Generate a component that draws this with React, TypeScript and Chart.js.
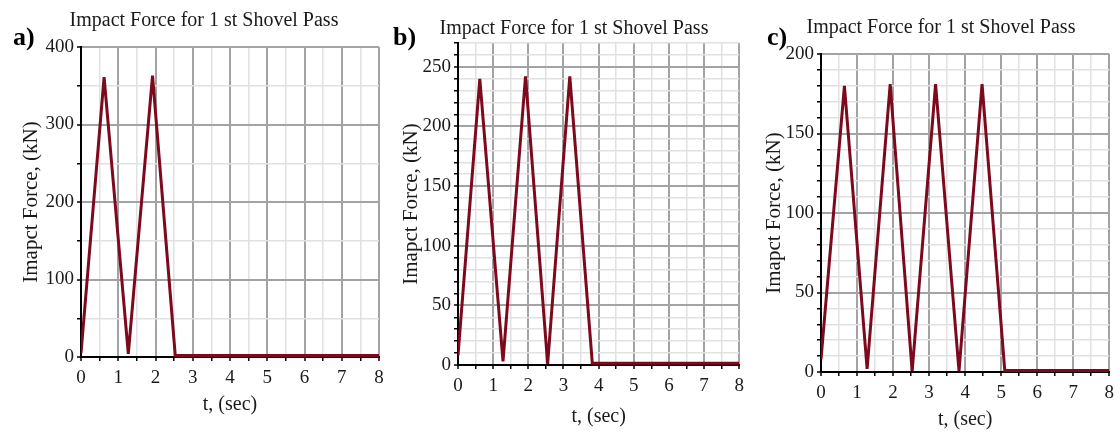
import React, { useEffect, useRef } from "react";
import { Chart, registerables } from "chart.js";

Chart.register(...registerables);

// ---- data ----
const chartTitle = "Impact Force for 1 st Shovel Pass";
const yAxisTitle = "Imapct Force, (kN)";
const xAxisTitle = "t, (sec)";
const panelLetters = ["a)", "b)", "c)"];

const xMin = 0;
const xMax = 8;
const xStep = 0.5; // minor grid every 0.5 s, labels every 1 s

// a) two passes
const timeA = [0, 0.62, 1.27, 1.92, 2.53, 8];
const forceA = [5, 361, 4, 363, 2, 2];
// b) three passes
const timeB = [0, 0.62, 1.28, 1.92, 2.55, 3.18, 3.82, 8];
const forceB = [8, 240, 3, 242, 1, 242, 1.5, 1.5];
// c) four passes
const timeC = [0, 0.65, 1.28, 1.92, 2.53, 3.18, 3.83, 4.47, 5.1, 8];
const forceC = [8, 180, 2, 181, 0.5, 181, 0.5, 181, 1, 1];

const yMaxes = [400, 270, 200];
const yMinorSteps = [50, 10, 10];
const yMajorSteps = [100, 50, 50];

// ---- styling ----
const FONT = "'Liberation Serif', 'Times New Roman', serif";
const LINE_COLOR = "#7c0a1c";
const MAJOR_GRID = "#a3a3a3";
const MINOR_GRID = "#e1e1e1";
const TEXT_COLOR = "#1a1a1a";

type Layout = {
  left: number;
  width: number;
  padTop: number;
  padRight: number;
  padBottom: number;
  yAxisWidth: number;
  xAxisHeight: number;
  yTitlePad: number;
  titleCenterX: number;
  titleTop: number;
  letterLeft: number;
};

const layouts: Layout[] = [
  { left: 0, width: 390, padTop: 47, padRight: 11, padBottom: 27, yAxisWidth: 81, xAxisHeight: 60, yTitlePad: 19, titleCenterX: 204, titleTop: 7, letterLeft: 13 },
  { left: 390, width: 360, padTop: 43, padRight: 9, padBottom: 15, yAxisWidth: 68, xAxisHeight: 64, yTitlePad: 9, titleCenterX: 574, titleTop: 15, letterLeft: 393 },
  { left: 750, width: 370, padTop: 54, padRight: 10, padBottom: 12, yAxisWidth: 71, xAxisHeight: 60, yTitlePad: 12, titleCenterX: 941, titleTop: 14, letterLeft: 767 },
];

const series = [
  { t: timeA, f: forceA },
  { t: timeB, f: forceB },
  { t: timeC, f: forceC },
];

function Panel({ index }: { index: number }) {
  const ref = useRef<HTMLCanvasElement | null>(null);
  const L = layouts[index];

  useEffect(() => {
    const canvas = ref.current;
    if (!canvas) return;
    const { t, f } = series[index];
    const yMax = yMaxes[index];
    const yStep = yMinorSteps[index];
    const yMajor = yMajorSteps[index];
    const isMajorX = (v: number) => Math.abs(v - Math.round(v)) < 1e-6;
    const isMajorY = (v: number) => Math.abs(v % yMajor) < 1e-6;

    const chart = new Chart(canvas, {
      type: "line",
      data: {
        datasets: [
          {
            data: t.map((x, i) => ({ x, y: f[i] })),
            borderColor: LINE_COLOR,
            borderWidth: 3,
            pointRadius: 0,
            tension: 0,
            fill: false,
          },
        ],
      },
      options: {
        animation: false,
        responsive: false,
        maintainAspectRatio: false,
        layout: {
          padding: { left: 0, right: L.padRight, top: L.padTop, bottom: L.padBottom },
        },
        plugins: {
          legend: { display: false },
          tooltip: { enabled: false },
          title: { display: false },
        },
        scales: {
          x: {
            type: "linear",
            min: xMin,
            max: xMax,
            afterFit: (s: any) => {
              s.height = L.xAxisHeight;
            },
            ticks: {
              stepSize: xStep,
              autoSkip: false,
              maxRotation: 0,
              padding: 6,
              color: TEXT_COLOR,
              font: { family: FONT, size: 19 },
              callback: (v: any) => (isMajorX(Number(v)) ? String(Math.round(Number(v))) : ""),
            },
            grid: {
              color: (c: any) => (c.tick && isMajorX(c.tick.value) ? MAJOR_GRID : MINOR_GRID),
              lineWidth: (c: any) => (c.tick && isMajorX(c.tick.value) ? 2 : 1.5),
              tickColor: "#000",
              tickLength: 4,
              tickWidth: 1.5,
            },
            border: { color: "#000", width: 2 },
            title: {
              display: true,
              text: xAxisTitle,
              color: TEXT_COLOR,
              font: { family: FONT, size: 20, lineHeight: 1.2 },
              padding: { top: 0, bottom: 0 },
            },
          },
          y: {
            type: "linear",
            min: 0,
            max: yMax,
            afterFit: (s: any) => {
              s.width = L.yAxisWidth;
            },
            ticks: {
              stepSize: yStep,
              includeBounds: false,
              autoSkip: false,
              padding: 3,
              color: TEXT_COLOR,
              font: { family: FONT, size: 19 },
              callback: (v: any) => (isMajorY(Number(v)) ? String(v) : ""),
            },
            grid: {
              color: (c: any) => (c.tick && isMajorY(c.tick.value) ? MAJOR_GRID : MINOR_GRID),
              lineWidth: (c: any) => (c.tick && isMajorY(c.tick.value) ? 2 : 1.5),
              tickColor: "#000",
              tickLength: 4,
              tickWidth: 1.5,
            },
            border: { color: "#000", width: 2 },
            title: {
              display: true,
              text: yAxisTitle,
              color: TEXT_COLOR,
              font: { family: FONT, size: 21, lineHeight: 1.2 },
              padding: { top: L.yTitlePad, bottom: 0 },
            },
          },
        },
      } as any,
    });
    return () => chart.destroy();
  }, [index]);

  return (
    <>
      <canvas
        ref={ref}
        width={L.width}
        height={444}
        style={{ position: "absolute", left: L.left, top: 0, width: L.width, height: 444 }}
      />
      <div
        style={{
          position: "absolute",
          left: L.titleCenterX - 200,
          top: L.titleTop,
          width: 400,
          textAlign: "center",
          font: `20px/24px ${FONT}`,
          color: TEXT_COLOR,
          whiteSpace: "nowrap",
        }}
      >
        {chartTitle}
      </div>
      <div
        style={{
          position: "absolute",
          left: L.letterLeft,
          top: 22,
          font: `bold 26px/30px ${FONT}`,
          color: "#000",
          whiteSpace: "nowrap",
        }}
      >
        {panelLetters[index]}
      </div>
    </>
  );
}

export default function App() {
  return (
    <div
      style={{
        position: "absolute",
        left: 0,
        top: 0,
        width: 1120,
        height: 444,
        background: "#fff",
        overflow: "hidden",
      }}
    >
      <Panel index={0} />
      <Panel index={1} />
      <Panel index={2} />
    </div>
  );
}
